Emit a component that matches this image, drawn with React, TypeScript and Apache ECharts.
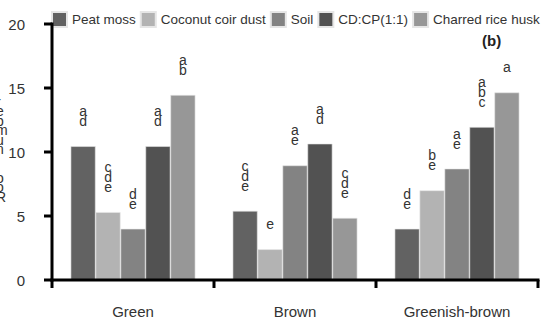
import React, { useEffect, useRef } from "react";
import * as echarts from "echarts";

const categories = ["Green", "Brown", "Greenish-brown"];
const seriesNames = ["Peat moss", "Coconut coir dust", "Soil", "CD:CP(1:1)", "Charred rice husk"];
const peatMoss = [10.45, 5.4, 4.0];
const coconutCoirDust = [5.3, 2.4, 7.0];
const soil = [4.0, 8.95, 8.7];
const cdcp = [10.45, 10.65, 11.95];
const charredRiceHusk = [14.45, 4.85, 14.65];
const letters = [
  ["a\nd", "c\nd\ne", "d\ne"],
  ["c\nd\ne", "e", "b\ne"],
  ["d\ne", "a\ne", "a\ne"],
  ["a\nd", "a\nd", "a\nb\nc"],
  ["a\nb", "c\nd\ne", "a"],
];
const colors = ["#626262", "#b3b3b3", "#838383", "#525252", "#979797"];
const yTicks = [0, 5, 10, 15, 20];
const yAxisTitle = "Root number";

export default function App() {
  const ref = useRef<HTMLDivElement>(null);
  useEffect(() => {
    if (!ref.current) return;
    const chart = echarts.init(ref.current, null, { renderer: "svg" });
    const allValues = [peatMoss, coconutCoirDust, soil, cdcp, charredRiceHusk];
    const font = "Liberation Sans";
    const stacked = yAxisTitle.split("").reverse().join("\n");
    chart.setOption({
      animation: false,
      title: [
        {
          text: "(b)",
          left: 482,
          top: 33,
          padding: 0,
          textStyle: { fontFamily: font, fontSize: 15, fontWeight: "bold", color: "#222" },
        },
        {
          text: stacked,
          left: -4,
          top: 97,
          padding: 0,
          textStyle: { fontFamily: font, fontSize: 14, fontWeight: "normal", color: "#333", lineHeight: 9.5 },
        },
      ],
      legend: {
        left: 46,
        top: 6,
        itemWidth: 15,
        itemHeight: 15,
        itemGap: 4,
        icon: "rect",
        textStyle: { fontFamily: font, fontSize: 13.5, color: "#333" },
        data: seriesNames,
      },
      grid: { left: 52, right: 9, top: 24, bottom: 48 },
      xAxis: {
        type: "category",
        data: categories,
        axisLine: { show: false },
        axisTick: { show: false },
        axisLabel: { fontFamily: font, fontSize: 15, color: "#333", margin: 24 },
      },
      yAxis: {
        type: "value",
        min: yTicks[0],
        max: yTicks[yTicks.length - 1],
        interval: 5,
        splitLine: { show: false },
        axisLine: { show: false },
        axisTick: { show: false },
        axisLabel: { fontFamily: font, fontSize: 15, color: "#333", margin: 27 },
      },
      series: seriesNames.map((name, i) => ({
        name,
        type: "bar",
        barGap: "0%",
        barCategoryGap: "23%",
        itemStyle: { color: colors[i], borderColor: "#e6e6e6", borderWidth: 0.6 },
        data: allValues[i].map((v, j) => ({
          value: v,
          label: {
            show: true,
            position: "top",
            distance: 20,
            formatter: letters[i][j],
            fontFamily: font,
            fontSize: 14,
            lineHeight: 10,
            color: "#333",
          },
        })),
      })),
    });

    // axis lines and ticks placed from the library's own scales
    const p0 = chart.convertToPixel({ gridIndex: 0 }, [0, yTicks[0]]) as number[];
    const p1 = chart.convertToPixel({ gridIndex: 0 }, [1, yTicks[yTicks.length - 1]]) as number[];
    const band = p1[0] - p0[0];
    const xLeft = p0[0] - band / 2;
    const xRight = xLeft + band * categories.length;
    const yZero = p0[1];
    const yTop = p1[1];
    const fill = { fill: "#000" };
    const elements: any[] = [
      { type: "rect", shape: { x: xLeft - 1.5, y: yTop - 1.5, width: 3, height: yZero - yTop + 3 }, style: fill, z: 100 },
      { type: "rect", shape: { x: xLeft - 1.5, y: yZero - 1.5, width: xRight - xLeft + 3, height: 3 }, style: fill, z: 100 },
    ];
    yTicks.forEach((t) => {
      const pt = chart.convertToPixel({ gridIndex: 0 }, [0, t]) as number[];
      const y = pt[1];
      elements.push({ type: "rect", shape: { x: xLeft - 8, y: y - 1.5, width: 8, height: 3 }, style: fill, z: 100 });
    });
    for (let k = 0; k <= categories.length; k++) {
      const x = xLeft + band * k;
      elements.push({ type: "rect", shape: { x: x - 1.5, y: yZero, width: 3, height: 8 }, style: fill, z: 100 });
    }
    chart.setOption({ graphic: elements });

    return () => chart.dispose();
  }, []);
  return <div ref={ref} style={{ width: 547, height: 328, position: "absolute", left: 0, top: 0 }} />;
}
